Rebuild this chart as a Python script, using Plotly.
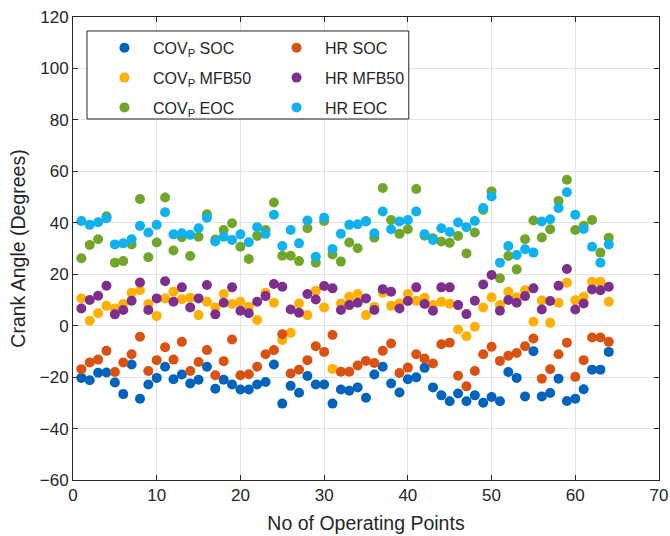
import plotly.graph_objects as go

points = list(range(1, 65))

cov_soc = [-20.3, -21.2, -18.3, -18.2, -22.1, -26.6, -15.1, -28.4, -22.9, -20.3,
           -16.0, -20.8, -19.0, -22.5, -21.0, -16.0, -24.5, -21.0, -22.9, -24.8,
           -24.8, -22.9, -21.9, -15.1, -30.3, -23.4, -26.1, -19.6, -22.9, -22.9,
           -30.3, -24.8, -25.3, -24.0, -28.0, -19.0, -16.0, -22.5, -26.0, -20.8,
           -20.1, -16.4, -24.0, -27.1, -29.4, -26.4, -29.4, -27.1, -30.0, -27.7,
           -29.4, -18.0, -20.3, -27.5, -9.9, -27.5, -26.2, -20.6, -29.3, -28.4,
           -24.7, -17.1, -17.1, -10.2]
hr_soc = [-16.9, -14.3, -13.2, -9.8, -18.0, -14.3, -11.1, -4.3, -17.6, -13.4,
          -8.4, -13.2, -6.3, -17.6, -14.1, -9.5, -19.3, -13.8, -5.4, -19.3,
          -18.9, -16.0, -11.1, -9.5, -3.3, -18.6, -17.1, -13.4, -8.0, -10.2,
          -3.6, -17.9, -17.9, -15.5, -13.7, -14.5, -9.8, -6.9, -18.4, -16.3,
          -11.1, -12.8, -14.7, -7.2, -6.6, -19.5, -23.6, -17.6, -11.1, -8.2,
          -13.7, -11.7, -10.6, -8.0, -5.0, -20.6, -16.9, -11.1, -6.6, -19.9,
          -13.4, -4.6, -4.6, -6.3]
cov_mfb50 = [10.6, 1.9, 4.8, 7.7, 6.7, 8.4, 12.8, 13.8, 8.4, 3.8,
             10.6, 13.2, 10.3, 10.9, 4.1, 9.3, 7.1, 12.3, 8.4, 9.3,
             7.3, 2.2, 12.8, 8.9, -5.6, -2.8, 8.6, 4.1, 13.6, 7.1,
             -16.8, 8.6, 11.2, 12.3, 4.1, 7.3, 12.8, 7.7, 8.6, 12.3,
             9.7, 10.9, 8.0, 9.3, 8.5, -1.5, -4.1, -0.4, 7.1, 11.0,
             8.0, 13.2, 11.0, 13.8, 1.5, 9.8, 1.1, 8.9, 16.7, 9.9,
             11.2, 17.1, 17.1, 9.3]
hr_mfb50 = [6.7, 10.0, 11.6, 15.5, 4.4, 6.1, 9.7, 16.8, 6.1, 10.6,
            17.3, 9.3, 14.9, 7.1, 10.6, 15.8, 4.4, 8.9, 14.9, 5.8,
            4.8, 9.3, 11.5, 16.2, 15.1, 6.3, 5.0, 12.3, 10.2, 15.4,
            14.5, 6.1, 8.0, 8.9, 10.6, 6.1, 14.2, 13.2, 6.7, 9.6,
            14.9, 8.4, 5.8, 14.9, 14.9, 8.0, 4.5, 9.7, 16.0, 19.7,
            5.8, 10.0, 8.9, 11.5, 14.5, 6.3, 9.6, 15.5, 22.0, 6.3,
            8.6, 14.1, 13.8, 15.1]
cov_eoc = [26.2, 31.4, 33.6, 42.5, 24.5, 25.1, 31.6, 49.2, 26.6, 32.3,
           49.8, 29.2, 34.4, 27.1, 34.6, 43.3, 33.5, 37.2, 39.8, 30.7,
           25.9, 34.9, 37.2, 47.9, 27.2, 27.2, 25.1, 37.9, 24.5, 40.7,
           27.7, 24.9, 32.3, 30.1, 40.7, 34.2, 53.5, 41.1, 35.7, 37.5,
           53.1, 35.0, 34.0, 32.7, 32.2, 34.9, 28.1, 36.2, 45.0, 52.2,
           18.4, 27.1, 21.9, 33.6, 40.9, 34.3, 37.5, 48.5, 56.7, 37.2,
           38.8, 41.1, 28.4, 34.2]
hr_eoc = [40.7, 39.2, 40.2, 41.8, 31.6, 32.0, 33.6, 38.8, 36.2, 39.2,
          44.1, 35.5, 35.9, 35.3, 37.9, 42.0, 32.7, 34.6, 33.3, 35.5,
          32.4, 38.3, 35.7, 43.1, 31.0, 37.2, 32.0, 40.9, 26.8, 42.0,
          29.8, 35.7, 39.2, 39.4, 40.5, 35.9, 44.4, 37.5, 40.5, 41.1,
          44.4, 35.5, 33.3, 37.9, 36.4, 40.1, 38.3, 40.7, 45.7, 50.2,
          24.5, 31.0, 27.5, 29.7, 28.4, 40.5, 41.4, 45.7, 51.9, 43.1,
          37.6, 30.7, 24.5, 31.6]

x_ticks = [0, 10, 20, 30, 40, 50, 60, 70]
y_ticks = [-60, -40, -20, 0, 20, 40, 60, 80, 100, 120]

series = [
    ("COV<sub>P</sub> SOC", cov_soc, "#0063BE", "legend"),
    ("COV<sub>P</sub> MFB50", cov_mfb50, "#FFB000", "legend"),
    ("COV<sub>P</sub> EOC", cov_eoc, "#71A62B", "legend"),
    ("HR SOC", hr_soc, "#DA5211", "legend2"),
    ("HR MFB50", hr_mfb50, "#7E2F8E", "legend2"),
    ("HR EOC", hr_eoc, "#0FB1EE", "legend2"),
]

FONT = "Liberation Sans, Arial, Helvetica, sans-serif"
TXT = "#262626"

fig = go.Figure()
for i, (name, vals, col, leg) in enumerate(series):
    fig.add_trace(go.Scatter(
        x=points, y=vals, mode="markers", name=name,
        marker=dict(size=10, color=col, line=dict(width=0)),
        legend=leg, legendgroup="g%d" % i,
    ))

axis_common = dict(
    showline=True, linecolor=TXT, linewidth=1, mirror="ticks",
    ticks="inside", ticklen=5, tickcolor=TXT, tickwidth=1,
    showgrid=True, gridcolor="#E3E3E3", gridwidth=1, zeroline=False,
    automargin=False,
    tickfont=dict(family=FONT, size=17, color=TXT),
)

fig.update_layout(
    width=670, height=536,
    margin=dict(l=73, r=11, t=17, b=56),
    paper_bgcolor="white", plot_bgcolor="white",
    showlegend=True,
    xaxis=dict(range=[0, 70], tickvals=x_ticks,
               title=dict(text="No of Operating Points", standoff=11,
                          font=dict(family=FONT, size=19.5, color=TXT)),
               **axis_common),
    yaxis=dict(range=[-60, 120], tickvals=y_ticks,
               title=dict(text="Crank Angle (Degrees)", standoff=8,
                          font=dict(family=FONT, size=19.5, color=TXT)),
               **axis_common),
    legend=dict(x=0.0392, y=0.970, xanchor="left", yanchor="top",
                bgcolor="rgba(0,0,0,0)", borderwidth=0,
                tracegroupgap=6, itemwidth=47,
                font=dict(family=FONT, size=16, color=TXT)),
    legend2=dict(x=0.3328, y=0.970, xanchor="left", yanchor="top",
                 bgcolor="rgba(0,0,0,0)", borderwidth=0,
                 tracegroupgap=6, itemwidth=47,
                 font=dict(family=FONT, size=16, color=TXT)),
    shapes=[dict(type="rect", xref="paper", yref="paper",
                 x0=0.0239, x1=0.573, y0=0.7797, y1=0.9698,
                 line=dict(color=TXT, width=1), fillcolor="white",
                 layer="above")],
)

fig.write_html("out.html")
